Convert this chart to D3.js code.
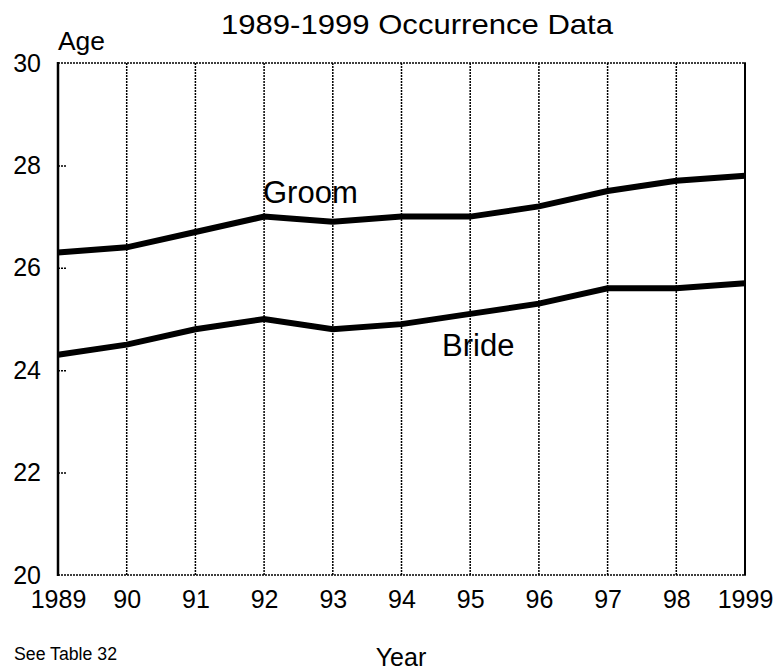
<!DOCTYPE html>
<html><head><meta charset="utf-8">
<script src="https://cdn.jsdelivr.net/npm/d3@7"></script>
<style>
body{margin:0;background:#fff;}
text{font-family:"Liberation Sans",Arial,sans-serif;fill:#000;}
</style></head>
<body><svg id="c" width="778" height="672"></svg>
<script>
const years = [1989,1990,1991,1992,1993,1994,1995,1996,1997,1998,1999];
const yearLabels = ["1989","90","91","92","93","94","95","96","97","98","1999"];
const groom = [26.3,26.4,26.7,27.0,26.9,27.0,27.0,27.2,27.5,27.7,27.8];
const bride = [24.3,24.5,24.8,25.0,24.8,24.9,25.1,25.3,25.6,25.6,25.7];
const yTicks = [20,22,24,26,28,30];
const innerTicks = [22,24,26,28];

const svg = d3.select("#c");
const x = d3.scaleLinear().domain([1989,1999]).range([58,745]);
const y = d3.scaleLinear().domain([20,30]).range([575,63]);

// vertical dotted gridlines
svg.append("g").selectAll("line").data(years.slice(1,-1)).join("line")
  .attr("x1",d=>x(d)).attr("x2",d=>x(d)).attr("y1",y(30)).attr("y2",y(20))
  .attr("stroke","#000").attr("stroke-width",1.5).attr("stroke-dasharray","2,1");
// top & bottom dotted
[30,20].forEach(v=>svg.append("line").attr("x1",x(1989)).attr("x2",x(1999))
  .attr("y1",y(v)).attr("y2",y(v)).attr("stroke","#000").attr("stroke-width",1.5)
  .attr("stroke-dasharray","2,1"));
// right solid
svg.append("line").attr("x1",x(1999)).attr("x2",x(1999)).attr("y1",y(30)-0.75).attr("y2",y(20)+0.75)
  .attr("stroke","#000").attr("stroke-width",2);
// left solid
svg.append("line").attr("x1",x(1989)).attr("x2",x(1989)).attr("y1",y(30)-1).attr("y2",y(20)+1)
  .attr("stroke","#000").attr("stroke-width",2.5);

// inner ticks
const ti = svg.append("g").attr("transform",`translate(${x(1989)},0)`)
  .call(d3.axisRight(y).tickValues(innerTicks).tickSize(9).tickFormat(""));
ti.select(".domain").remove();
ti.selectAll("line").attr("stroke-width",1.5).attr("stroke-dasharray","2,1");

// y labels
const yl = svg.append("g").attr("transform",`translate(41,0)`)
  .call(d3.axisLeft(y).tickValues(yTicks).tickSize(0).tickPadding(0));
yl.select(".domain").remove();
yl.selectAll("text").attr("font-size",25).attr("font-family","Liberation Sans,Arial,sans-serif").attr("fill","#000");

// x labels
const xl = svg.append("g").attr("transform",`translate(0,590)`)
  .call(d3.axisBottom(x).tickValues(years).tickSize(0).tickPadding(0)
    .tickFormat((d,i)=>yearLabels[i]));
xl.select(".domain").remove();
xl.selectAll("text").attr("font-size",25).attr("font-family","Liberation Sans,Arial,sans-serif").attr("fill","#000");

// lines
const line = d3.line().x((d,i)=>x(years[i])).y(d=>y(d));
[groom,bride].forEach(s=>svg.append("path").attr("d",line(s)).attr("fill","none")
  .attr("stroke","#000").attr("stroke-width",6).attr("stroke-linejoin","miter"));

// texts
svg.append("text").attr("x",221).attr("y",34).attr("font-size",28)
  .attr("textLength",392).attr("lengthAdjust","spacingAndGlyphs").text("1989-1999 Occurrence Data");
svg.append("text").attr("x",58).attr("y",50).attr("font-size",25)
  .attr("textLength",47).attr("lengthAdjust","spacingAndGlyphs").text("Age");
svg.append("text").attr("x",263).attr("y",203).attr("font-size",31).text("Groom");
svg.append("text").attr("x",442).attr("y",356).attr("font-size",31).text("Bride");
svg.append("text").attr("x",14).attr("y",660).attr("font-size",18)
  .attr("textLength",103).attr("lengthAdjust","spacingAndGlyphs").text("See Table 32");
svg.append("text").attr("x",401).attr("y",666).attr("font-size",25).attr("text-anchor","middle").text("Year");
</script></body></html>
